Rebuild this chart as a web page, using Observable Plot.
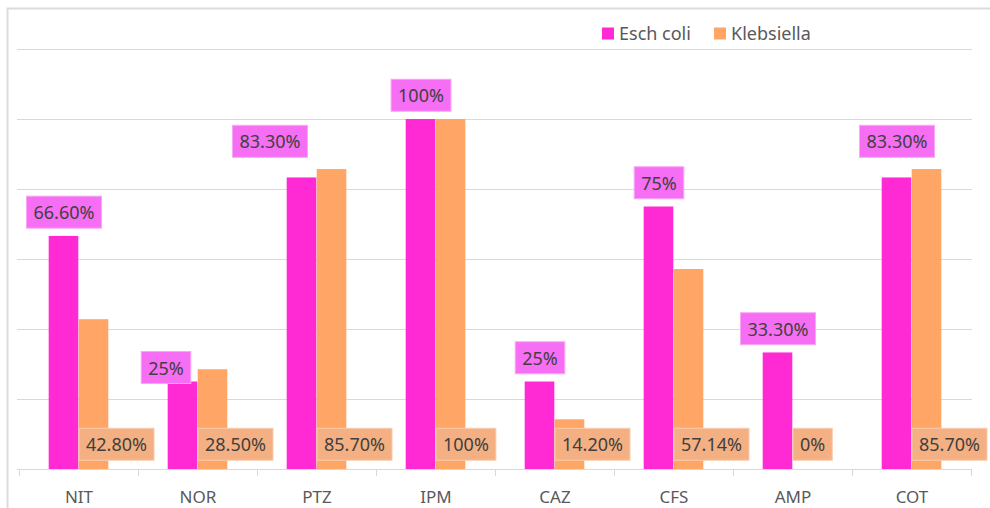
<!DOCTYPE html>
<html><head><meta charset="utf-8">
<script src="https://cdn.jsdelivr.net/npm/d3@7"></script>
<script src="https://cdn.jsdelivr.net/npm/@observablehq/plot@0.6"></script>
<style>body{margin:0;background:#fff} svg{display:block}</style>
</head><body><div id="chart"></div>
<script>
const categories = ["NIT","NOR","PTZ","IPM","CAZ","CFS","AMP","COT"];
const series = ["Esch coli","Klebsiella"];
const eschColi = [66.6,25,83.3,100,25,75,33.3,83.3];
const klebsiella = [42.8,28.5,85.7,100,14.2,57.14,0,85.7];
const eschLabels = ["66.60%","25%","83.30%","100%","25%","75%","33.30%","83.30%"];
const klebLabels = ["42.80%","28.50%","85.70%","100%","14.20%","57.14%","0%","85.70%"];
const yTicks = [20,40,60,80,100,120];

const colors = {"Esch coli":"#FF2AD4","Klebsiella":"#FFA565"};
const boxFill = {"Esch coli":"#F56EF3","Klebsiella":"#F4B083"};
const boxStroke = {"Esch coli":"#FAA6F7","Klebsiella":"#F8CDAE"};
const W = 990, H = 508, pLeft = 17, pRight = 972, pTop = 49, pBottom = 469;
const bw = (pRight - pLeft) / categories.length;
const barW = 30;

const esch = categories.map((c, i) => ({cat: c, series: series[0], value: eschColi[i], label: eschLabels[i], topv: Math.max(eschColi[i], klebsiella[i])}));
const kleb = categories.map((c, i) => ({cat: c, series: series[1], value: klebsiella[i], label: klebLabels[i]}));
// manual label nudges (pixels), as in the original
const nudge = {NOR: [-17, 22], PTZ: [-32, -4], COT: [0, -4]};

const eschTextMarks = esch.map(d => {
  const n = nudge[d.cat] || [0, 0];
  return Plot.text([d], {x: "cat", y: "topv", text: "label", dx: -barW/2 + n[0], dy: -23 + n[1],
    fill: "#404040", fontSize: 18, className: "lab-e"});
});

const chart = Plot.plot({
  width: W, height: H,
  marginLeft: pLeft, marginRight: W - pRight, marginTop: pTop, marginBottom: H - pBottom,
  style: {fontFamily: "'Noto Sans', sans-serif", color: "#595959", background: "#fff"},
  x: {type: "band", domain: categories, padding: 0},
  y: {domain: [0, 120], axis: null},
  marks: [
    Plot.ruleY(yTicks, {stroke: "#d9d9d9"}),
    Plot.ruleY([0], {stroke: "#d9d9d9"}),
    Plot.barY(esch, {x: "cat", y: "value", fill: colors[series[0]], insetLeft: bw/2 - barW, insetRight: bw/2}),
    Plot.barY(kleb, {x: "cat", y: "value", fill: colors[series[1]], insetLeft: bw/2, insetRight: bw/2 - barW}),
    Plot.axisX({tickSize: 0, tickPadding: 21, fontSize: 17, label: null}),
    ...eschTextMarks,
    Plot.text(kleb, {x: "cat", text: "label", frameAnchor: "bottom", lineAnchor: "middle", textAnchor: "start", dx: 7, dy: -24,
      fill: "#404040", fontSize: 18, className: "lab-k"})
  ]
});

document.getElementById("chart").appendChild(chart);
const svg = d3.select(chart);

// outer chart border
svg.insert("rect", ":first-child").attr("x", 7.5).attr("y", 8.5).attr("width", W).attr("height", H + 50)
  .attr("fill", "none").attr("stroke", "#dcdcdc").attr("stroke-width", 2);

// category boundary ticks using the library's x scale
const xs = chart.scale("x");
const bounds = categories.map(c => xs.apply(c)).concat([xs.apply(categories[categories.length - 1]) + bw]);
svg.append("g").selectAll("line").data(bounds).join("line")
  .attr("x1", d => Math.round(d) + 0.5).attr("x2", d => Math.round(d) + 0.5)
  .attr("y1", pBottom).attr("y2", pBottom + 7).attr("stroke", "#d9d9d9");

// label boxes behind label text
function boxes(cls, key) {
  svg.selectAll("g." + cls + " text").each(function() {
    const bb = this.getBBox();
    const cy = bb.y + bb.height / 2;
    const r = d3.select(this.parentNode).insert("rect", () => this)
      .attr("x", bb.x - 7).attr("y", cy - 16).attr("width", bb.width + 14).attr("height", 32)
      .attr("fill", boxFill[key]).attr("stroke", boxStroke[key]).attr("stroke-width", 1);
    const tr = this.getAttribute("transform");
    if (tr) r.attr("transform", tr);
  });
}
boxes("lab-e", series[0]);
boxes("lab-k", series[1]);

// legend
const lg = svg.append("g").attr("font-size", 18).attr("fill", "#595959").attr("text-anchor", "start");
const lx = [602, 714];
series.forEach((s, i) => {
  lg.append("rect").attr("x", lx[i]).attr("y", 27.5).attr("width", 12).attr("height", 12).attr("fill", colors[s]);
  lg.append("text").attr("x", lx[i] + 17).attr("y", 33.5).attr("dy", "0.35em").text(s);
});
</script></body></html>
